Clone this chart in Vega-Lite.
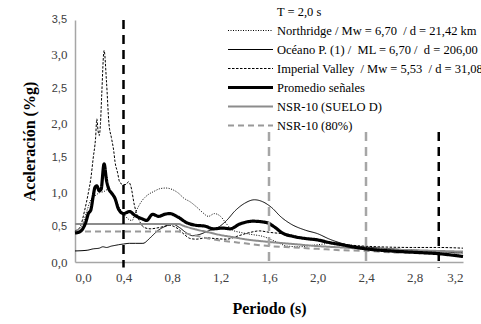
{
  "$schema": "https://vega.github.io/schema/vega-lite/v6.json",
  "width": 388,
  "height": 242,
  "autosize": "none",
  "padding": {"left": 75, "top": 20, "right": 18, "bottom": 62},
  "config": {
    "view": {"stroke": null},
    "font": "Liberation Serif",
    "locale": {"number": {"decimal": ",", "thousands": ".", "grouping": [3], "currency": ["", " €"]}},
    "axis": {
      "labelFont": "Liberation Serif", "titleFont": "Liberation Serif",
      "labelFontSize": 13, "labelColor": "#404040",
      "titleFontSize": 16, "titleFontWeight": "bold", "titleColor": "#000000",
      "labelOverlap": false, "ticks": false, "grid": false,
      "domainColor": "#a6a6a6", "domainWidth": 1.5
    },
    "axisX": {"labelPadding": 9, "titlePadding": 16},
    "axisY": {"labelPadding": 8, "titlePadding": 13}
  },
  "datasets": {
    "curves": [
      {"s": "N", "T": 0, "A": 0.45}, {"s": "N", "T": 0.05, "A": 0.5}, {"s": "N", "T": 0.1, "A": 0.75}, {"s": "N", "T": 0.13, "A": 0.9}, {"s": "N", "T": 0.16, "A": 0.95}, {"s": "N", "T": 0.2, "A": 1.0}, {"s": "N", "T": 0.24, "A": 1.02}, {"s": "N", "T": 0.27, "A": 1.05}, {"s": "N", "T": 0.3, "A": 0.98}, {"s": "N", "T": 0.33, "A": 0.9}, {"s": "N", "T": 0.36, "A": 0.8}, {"s": "N", "T": 0.4, "A": 0.7}, {"s": "N", "T": 0.44, "A": 0.62}, {"s": "N", "T": 0.47, "A": 0.6}, {"s": "N", "T": 0.5, "A": 0.72}, {"s": "N", "T": 0.55, "A": 0.88}, {"s": "N", "T": 0.6, "A": 0.97}, {"s": "N", "T": 0.65, "A": 1.02}, {"s": "N", "T": 0.7, "A": 1.06}, {"s": "N", "T": 0.75, "A": 1.07}, {"s": "N", "T": 0.8, "A": 1.05}, {"s": "N", "T": 0.85, "A": 1.0}, {"s": "N", "T": 0.9, "A": 0.92}, {"s": "N", "T": 0.95, "A": 0.87}, {"s": "N", "T": 1.0, "A": 0.8}, {"s": "N", "T": 1.05, "A": 0.72}, {"s": "N", "T": 1.1, "A": 0.66}, {"s": "N", "T": 1.15, "A": 0.7}, {"s": "N", "T": 1.2, "A": 0.66}, {"s": "N", "T": 1.25, "A": 0.55}, {"s": "N", "T": 1.3, "A": 0.46}, {"s": "N", "T": 1.36, "A": 0.43}, {"s": "N", "T": 1.45, "A": 0.4}, {"s": "N", "T": 1.55, "A": 0.37}, {"s": "N", "T": 1.65, "A": 0.3}, {"s": "N", "T": 1.75, "A": 0.23}, {"s": "N", "T": 1.85, "A": 0.22}, {"s": "N", "T": 1.95, "A": 0.24}, {"s": "N", "T": 2.05, "A": 0.26}, {"s": "N", "T": 2.12, "A": 0.28}, {"s": "N", "T": 2.25, "A": 0.25}, {"s": "N", "T": 2.4, "A": 0.21}, {"s": "N", "T": 2.8, "A": 0.17}, {"s": "N", "T": 3.2, "A": 0.14},

      {"s": "I", "T": 0, "A": 0.45}, {"s": "I", "T": 0.04, "A": 0.5}, {"s": "I", "T": 0.08, "A": 0.75}, {"s": "I", "T": 0.11, "A": 1.0}, {"s": "I", "T": 0.13, "A": 1.2}, {"s": "I", "T": 0.15, "A": 1.5}, {"s": "I", "T": 0.17, "A": 1.8}, {"s": "I", "T": 0.18, "A": 2.07}, {"s": "I", "T": 0.19, "A": 1.9}, {"s": "I", "T": 0.2, "A": 1.83}, {"s": "I", "T": 0.21, "A": 2.0}, {"s": "I", "T": 0.22, "A": 2.4}, {"s": "I", "T": 0.24, "A": 3.06}, {"s": "I", "T": 0.26, "A": 2.6}, {"s": "I", "T": 0.28, "A": 2.0}, {"s": "I", "T": 0.3, "A": 1.8}, {"s": "I", "T": 0.32, "A": 1.6}, {"s": "I", "T": 0.33, "A": 1.45}, {"s": "I", "T": 0.35, "A": 1.3}, {"s": "I", "T": 0.37, "A": 1.15}, {"s": "I", "T": 0.4, "A": 1.12}, {"s": "I", "T": 0.42, "A": 1.12}, {"s": "I", "T": 0.44, "A": 1.16}, {"s": "I", "T": 0.46, "A": 1.1}, {"s": "I", "T": 0.49, "A": 0.82}, {"s": "I", "T": 0.53, "A": 0.6}, {"s": "I", "T": 0.57, "A": 0.5}, {"s": "I", "T": 0.62, "A": 0.48}, {"s": "I", "T": 0.7, "A": 0.5}, {"s": "I", "T": 0.78, "A": 0.53}, {"s": "I", "T": 0.85, "A": 0.48}, {"s": "I", "T": 0.9, "A": 0.4}, {"s": "I", "T": 0.95, "A": 0.34}, {"s": "I", "T": 1.0, "A": 0.33}, {"s": "I", "T": 1.08, "A": 0.35}, {"s": "I", "T": 1.15, "A": 0.34}, {"s": "I", "T": 1.25, "A": 0.33}, {"s": "I", "T": 1.35, "A": 0.38}, {"s": "I", "T": 1.45, "A": 0.43}, {"s": "I", "T": 1.52, "A": 0.45}, {"s": "I", "T": 1.6, "A": 0.43}, {"s": "I", "T": 1.75, "A": 0.4}, {"s": "I", "T": 1.9, "A": 0.34}, {"s": "I", "T": 2.1, "A": 0.28}, {"s": "I", "T": 2.3, "A": 0.24}, {"s": "I", "T": 2.5, "A": 0.22}, {"s": "I", "T": 2.8, "A": 0.21}, {"s": "I", "T": 3.0, "A": 0.21}, {"s": "I", "T": 3.2, "A": 0.2},

      {"s": "O", "T": 0, "A": 0.16}, {"s": "O", "T": 0.1, "A": 0.17}, {"s": "O", "T": 0.15, "A": 0.19}, {"s": "O", "T": 0.2, "A": 0.2}, {"s": "O", "T": 0.23, "A": 0.22}, {"s": "O", "T": 0.26, "A": 0.21}, {"s": "O", "T": 0.3, "A": 0.23}, {"s": "O", "T": 0.33, "A": 0.24}, {"s": "O", "T": 0.36, "A": 0.25}, {"s": "O", "T": 0.4, "A": 0.26}, {"s": "O", "T": 0.45, "A": 0.27}, {"s": "O", "T": 0.5, "A": 0.27}, {"s": "O", "T": 0.56, "A": 0.27}, {"s": "O", "T": 0.62, "A": 0.35}, {"s": "O", "T": 0.68, "A": 0.45}, {"s": "O", "T": 0.75, "A": 0.52}, {"s": "O", "T": 0.8, "A": 0.55}, {"s": "O", "T": 0.86, "A": 0.5}, {"s": "O", "T": 0.92, "A": 0.42}, {"s": "O", "T": 0.97, "A": 0.38}, {"s": "O", "T": 1.03, "A": 0.4}, {"s": "O", "T": 1.1, "A": 0.45}, {"s": "O", "T": 1.18, "A": 0.5}, {"s": "O", "T": 1.25, "A": 0.6}, {"s": "O", "T": 1.32, "A": 0.74}, {"s": "O", "T": 1.4, "A": 0.85}, {"s": "O", "T": 1.48, "A": 0.9}, {"s": "O", "T": 1.55, "A": 0.87}, {"s": "O", "T": 1.62, "A": 0.79}, {"s": "O", "T": 1.7, "A": 0.65}, {"s": "O", "T": 1.78, "A": 0.55}, {"s": "O", "T": 1.9, "A": 0.46}, {"s": "O", "T": 2.0, "A": 0.41}, {"s": "O", "T": 2.1, "A": 0.33}, {"s": "O", "T": 2.2, "A": 0.27}, {"s": "O", "T": 2.3, "A": 0.23}, {"s": "O", "T": 2.45, "A": 0.21}, {"s": "O", "T": 2.7, "A": 0.18}, {"s": "O", "T": 3.0, "A": 0.15}, {"s": "O", "T": 3.2, "A": 0.13},

      {"s": "S", "T": 0, "A": 0.55}, {"s": "S", "T": 0.85, "A": 0.55}, {"s": "S", "T": 0.9, "A": 0.52}, {"s": "S", "T": 1.0, "A": 0.47}, {"s": "S", "T": 1.1, "A": 0.43}, {"s": "S", "T": 1.2, "A": 0.39}, {"s": "S", "T": 1.3, "A": 0.36}, {"s": "S", "T": 1.4, "A": 0.33}, {"s": "S", "T": 1.6, "A": 0.29}, {"s": "S", "T": 1.8, "A": 0.26}, {"s": "S", "T": 2.0, "A": 0.23}, {"s": "S", "T": 2.2, "A": 0.21}, {"s": "S", "T": 2.4, "A": 0.19}, {"s": "S", "T": 2.6, "A": 0.18}, {"s": "S", "T": 2.8, "A": 0.17}, {"s": "S", "T": 3.0, "A": 0.16}, {"s": "S", "T": 3.2, "A": 0.15},

      {"s": "S80", "T": 0, "A": 0.44}, {"s": "S80", "T": 0.85, "A": 0.44}, {"s": "S80", "T": 0.9, "A": 0.42}, {"s": "S80", "T": 1.0, "A": 0.38}, {"s": "S80", "T": 1.1, "A": 0.34}, {"s": "S80", "T": 1.2, "A": 0.31}, {"s": "S80", "T": 1.3, "A": 0.29}, {"s": "S80", "T": 1.4, "A": 0.27}, {"s": "S80", "T": 1.6, "A": 0.23}, {"s": "S80", "T": 1.8, "A": 0.21}, {"s": "S80", "T": 2.0, "A": 0.19}, {"s": "S80", "T": 2.2, "A": 0.17}, {"s": "S80", "T": 2.4, "A": 0.16}, {"s": "S80", "T": 2.6, "A": 0.14}, {"s": "S80", "T": 2.8, "A": 0.13}, {"s": "S80", "T": 3.0, "A": 0.12}, {"s": "S80", "T": 3.2, "A": 0.12},

      {"s": "P", "T": 0, "A": 0.42}, {"s": "P", "T": 0.03, "A": 0.43}, {"s": "P", "T": 0.06, "A": 0.47}, {"s": "P", "T": 0.09, "A": 0.58}, {"s": "P", "T": 0.11, "A": 0.7}, {"s": "P", "T": 0.13, "A": 0.75}, {"s": "P", "T": 0.15, "A": 0.95}, {"s": "P", "T": 0.165, "A": 1.08}, {"s": "P", "T": 0.18, "A": 1.1}, {"s": "P", "T": 0.2, "A": 1.03}, {"s": "P", "T": 0.215, "A": 1.05}, {"s": "P", "T": 0.24, "A": 1.42}, {"s": "P", "T": 0.26, "A": 1.18}, {"s": "P", "T": 0.28, "A": 1.05}, {"s": "P", "T": 0.3, "A": 1.0}, {"s": "P", "T": 0.33, "A": 0.92}, {"s": "P", "T": 0.36, "A": 0.76}, {"s": "P", "T": 0.4, "A": 0.7}, {"s": "P", "T": 0.45, "A": 0.73}, {"s": "P", "T": 0.49, "A": 0.68}, {"s": "P", "T": 0.52, "A": 0.65}, {"s": "P", "T": 0.56, "A": 0.62}, {"s": "P", "T": 0.59, "A": 0.6}, {"s": "P", "T": 0.64, "A": 0.69}, {"s": "P", "T": 0.69, "A": 0.66}, {"s": "P", "T": 0.74, "A": 0.69}, {"s": "P", "T": 0.78, "A": 0.7}, {"s": "P", "T": 0.85, "A": 0.65}, {"s": "P", "T": 0.92, "A": 0.57}, {"s": "P", "T": 1.0, "A": 0.53}, {"s": "P", "T": 1.07, "A": 0.52}, {"s": "P", "T": 1.14, "A": 0.48}, {"s": "P", "T": 1.22, "A": 0.49}, {"s": "P", "T": 1.28, "A": 0.48}, {"s": "P", "T": 1.36, "A": 0.55}, {"s": "P", "T": 1.47, "A": 0.59}, {"s": "P", "T": 1.58, "A": 0.57}, {"s": "P", "T": 1.65, "A": 0.5}, {"s": "P", "T": 1.71, "A": 0.42}, {"s": "P", "T": 1.8, "A": 0.37}, {"s": "P", "T": 1.9, "A": 0.34}, {"s": "P", "T": 2.0, "A": 0.32}, {"s": "P", "T": 2.1, "A": 0.28}, {"s": "P", "T": 2.2, "A": 0.25}, {"s": "P", "T": 2.32, "A": 0.21}, {"s": "P", "T": 2.45, "A": 0.18}, {"s": "P", "T": 2.6, "A": 0.16}, {"s": "P", "T": 2.8, "A": 0.14}, {"s": "P", "T": 3.0, "A": 0.12}, {"s": "P", "T": 3.2, "A": 0.08}
    ]
  },
  "layer": [
    {
      "data": {"name": "curves"},
      "mark": {"type": "line", "interpolate": "monotone"},
      "encoding": {
        "x": {
          "field": "T", "type": "quantitative",
          "scale": {"domain": [0, 3.2], "nice": false},
          "axis": {
            "title": "Periodo (s)",
            "values": [0, 0.4, 0.8, 1.2, 1.6, 2.0, 2.4, 2.8, 3.2],
            "format": ".1f",
            "labelOverlap": false
          }
        },
        "y": {
          "field": "A", "type": "quantitative",
          "scale": {"domain": [0, 3.5], "nice": false},
          "axis": {
            "title": "Aceleración (%g)",
            "values": [0, 0.5, 1.0, 1.5, 2.0, 2.5, 3.0, 3.5],
            "format": ".1f",
            "labelOverlap": false
          }
        },
        "detail": {"field": "s"},
        "color": {
          "field": "s", "type": "nominal",
          "scale": {
            "domain": ["T", "N", "O", "I", "P", "S", "S80"],
            "range": ["transparent", "#000000", "#000000", "#000000", "#000000", "#8c8c8c", "#999999"]
          },
          "legend": {
            "title": null,
            "orient": "none",
            "legendX": 151,
            "legendY": -16,
            "symbolType": "stroke",
            "symbolSize": 2025,
            "clipHeight": 15,
            "rowPadding": 4,
            "labelFont": "Liberation Serif",
            "labelFontSize": 12.5,
            "labelColor": "#000000",
            "labelOffset": 2,
            "labelLimit": 400,
            "labelExpr": "{'T': 'T = 2,0 s', 'N': 'Northridge / Mw = 6,70 \u00a0/ d = 21,42 km', 'O': 'Océano P. (1) / \u00a0ML = 6,70 / \u00a0d = 206,00 km', 'I': 'Imperial Valley \u00a0/ Mw = 5,53 \u00a0/ d = 31,08 km', 'P': 'Promedio señales', 'S': 'NSR-10 (SUELO D)', 'S80': 'NSR-10 (80%)'}[datum.label]"
          }
        },
        "strokeDash": {
          "field": "s", "type": "nominal",
          "scale": {
            "domain": ["T", "N", "O", "I", "P", "S", "S80"],
            "range": [[1, 0], [1, 1.5], [1, 0], [2.5, 1.5], [1, 0], [1, 0], [6, 4]]
          },
          "legend": null
        },
        "strokeWidth": {
          "field": "s", "type": "nominal",
          "scale": {
            "type": "ordinal",
            "domain": ["T", "N", "O", "I", "P", "S", "S80"],
            "range": [1, 1, 1, 1, 3.2, 2, 2]
          },
          "legend": null
        },
        "order": {"field": "T", "type": "quantitative"}
      }
    },
    {
      "data": {"values": [{"T": 1.6, "top": 1.88, "bot": 0}, {"T": 2.4, "top": 1.88, "bot": 0}]},
      "mark": {"type": "rule", "color": "#a6a6a6", "strokeWidth": 2.5, "strokeDash": [9, 6]},
      "encoding": {
        "x": {"field": "T", "type": "quantitative"},
        "y": {"field": "top", "type": "quantitative"},
        "y2": {"field": "bot"}
      }
    },
    {
      "data": {"values": [{"T": 0.4, "top": 3.5, "bot": -0.08}, {"T": 3.0, "top": 1.88, "bot": -0.08}]},
      "mark": {"type": "rule", "color": "#000000", "strokeWidth": 2.5, "strokeDash": [9, 6]},
      "encoding": {
        "x": {"field": "T", "type": "quantitative"},
        "y": {"field": "top", "type": "quantitative"},
        "y2": {"field": "bot"}
      }
    },
    {
      "data": {"values": [{"A": 0.5, "lab": "0,5"}, {"A": 1.5, "lab": "1,5"}, {"A": 2.5, "lab": "2,5"}, {"A": 3.5, "lab": "3,5"}]},
      "mark": {"type": "text", "align": "right", "baseline": "middle", "dx": -8, "fontSize": 11, "font": "Liberation Sans", "color": "#404040"},
      "encoding": {
        "x": {"datum": 0, "type": "quantitative"},
        "y": {"field": "A", "type": "quantitative"},
        "text": {"field": "lab"}
      }
    }
  ]
}
